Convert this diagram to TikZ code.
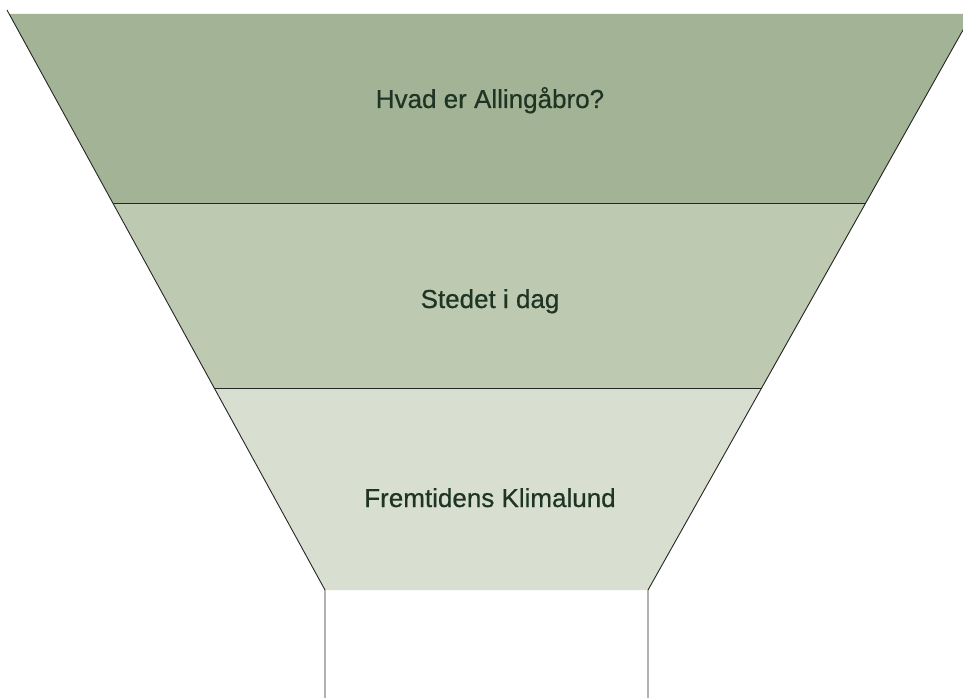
\documentclass[tikz,border=0pt]{standalone}
\usepackage{fontspec}
\setmainfont{Liberation Sans}
\newfontfamily\bandfont[FakeBold=0.6]{Liberation Sans}
\usetikzlibrary{positioning}
\definecolor{bandtop}{HTML}{A3B396}
\definecolor{bandmid}{HTML}{BEC9B1}
\definecolor{bandlow}{HTML}{D9DFD0}
\definecolor{textgreen}{HTML}{1E3524}
\begin{document}
\begin{tikzpicture}[x=1pt,y=-1pt,
    bandtext/.style={font=\bandfont\fontsize{26}{30}\selectfont, text=textgreen, anchor=base},
    rim/.style={draw=black!85, line width=0.9pt}]
      \clip (0,0) rectangle (963,698);
      \coordinate (lt) at (7,10);
      \coordinate (la) at (9,14);   \coordinate (ra) at (972,14);
      \coordinate (lb) at (113,203); \coordinate (rb) at (866,203);
      \coordinate (lc) at (214,388); \coordinate (rc) at (762,388);
      \coordinate (ld) at (325,590); \coordinate (rd) at (648,590);
      \coordinate (le) at (325,698); \coordinate (re) at (648,698);
      \fill[bandtop] (la) -- (ra) -- (rb) -- (lb) -- cycle;
      \fill[bandmid] (lb) -- (rb) -- (rc) -- (lc) -- cycle;
      \fill[bandlow] (lc) -- (rc) -- (rd) -- (ld) -- cycle;
      \draw[rim] (lt) -- (ld) -- (le);
      \draw[rim] (ra) -- (rd) -- (re);
      \draw[rim] (lb) -- (rb);
      \draw[rim] (lc) -- (rc);
      \node[bandtext] (sa) at (490,108) {Hvad er Allingåbro?};
      \node[bandtext] (sb) at (490,308) {Stedet i dag};
      \node[bandtext] (sc) at (490,507) {Fremtidens Klimalund};
    \end{tikzpicture}
\end{document}
